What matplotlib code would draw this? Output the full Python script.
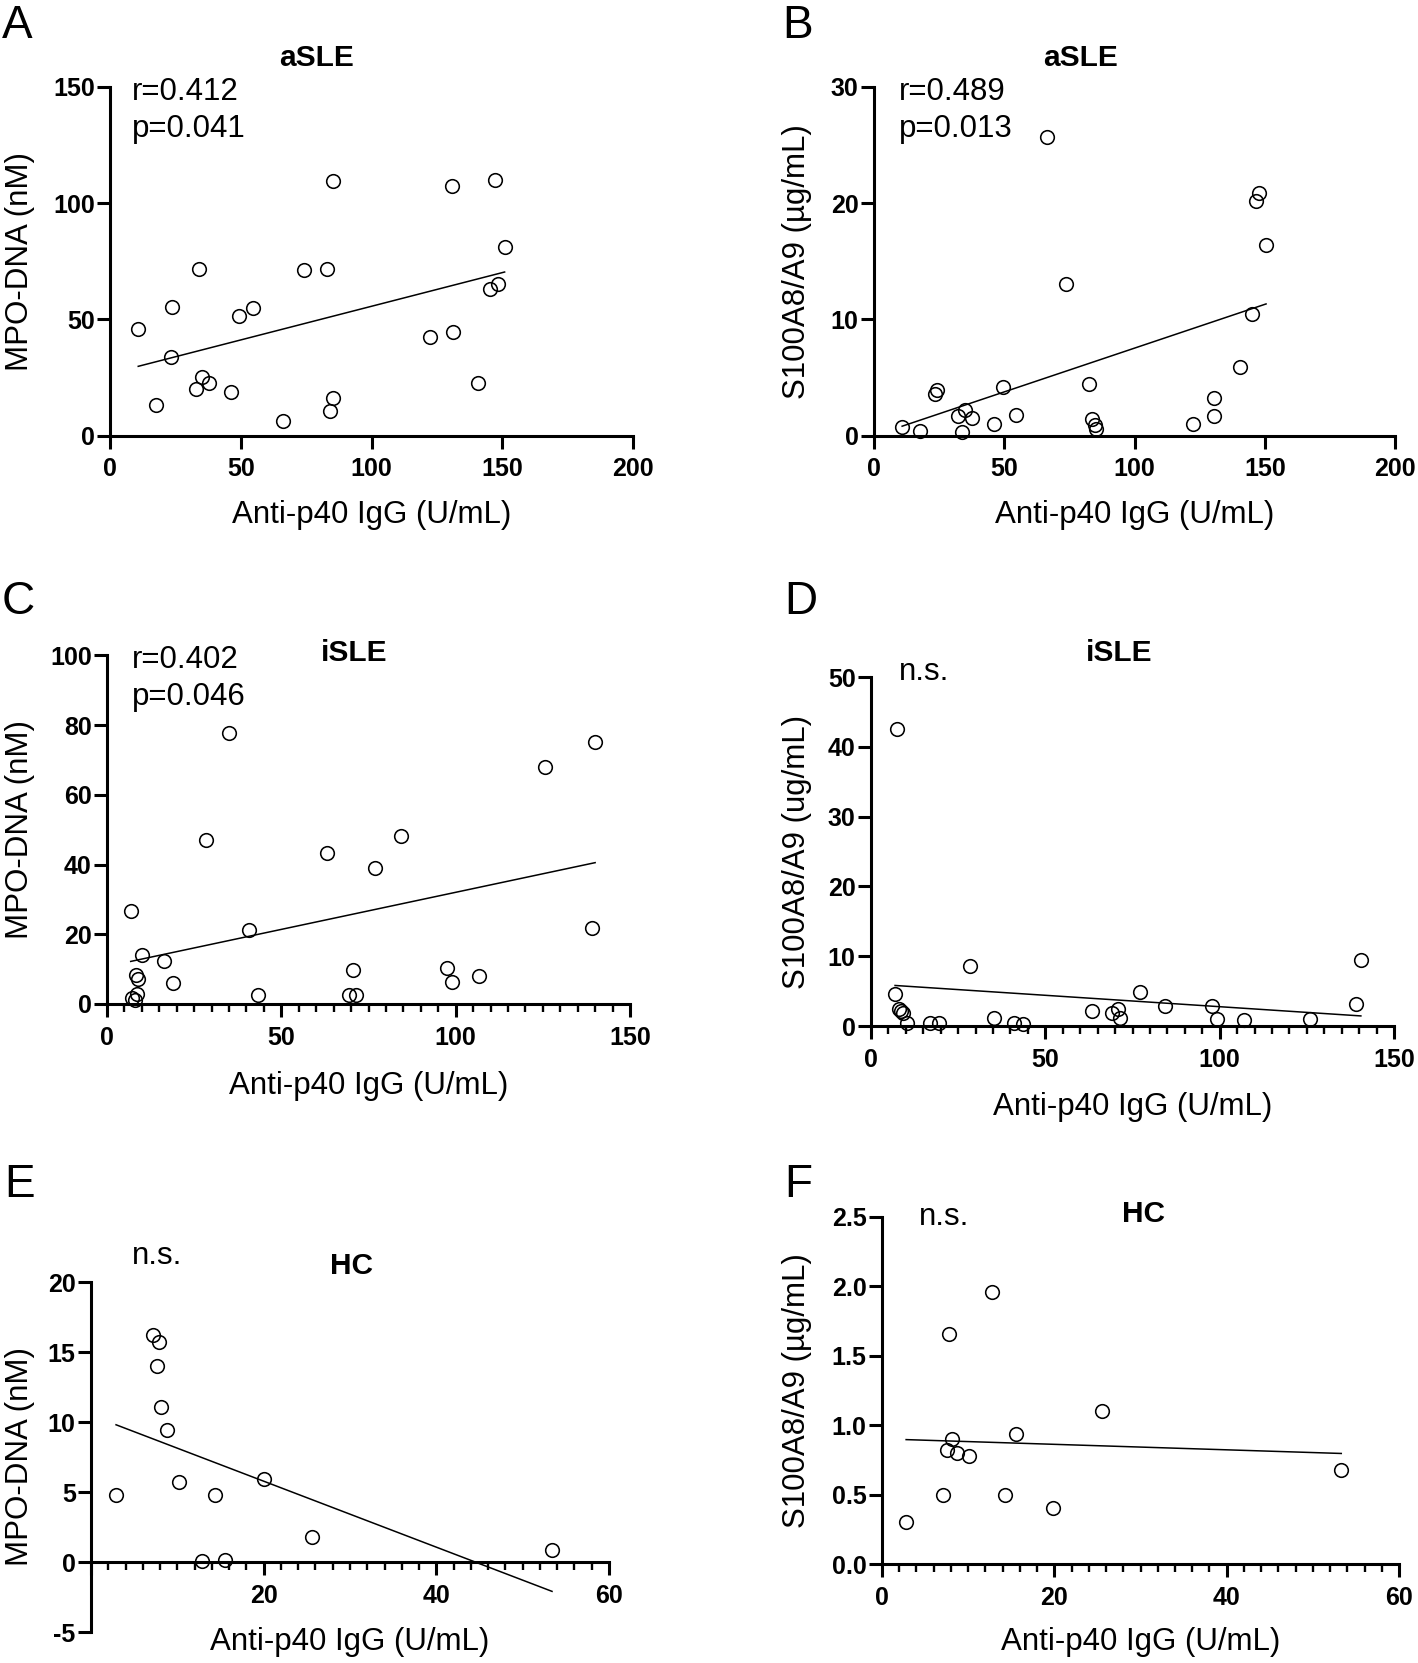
import numpy as np
import matplotlib
matplotlib.use("Agg")
import matplotlib.pyplot as plt
from matplotlib.ticker import MultipleLocator

# ---------------- data ----------------
A_x = [10.8, 17.7, 23.7, 23.2, 34.0, 33.0, 35.1, 37.8, 46.2, 49.5, 54.8, 66.3, 74.1,
       82.8, 85.2, 84.0, 85.2, 122.5, 130.8, 131.1, 140.9, 145.2, 147.3, 148.3, 150.9]
A_y = [45.9, 13.1, 55.3, 34.0, 71.7, 20.1, 25.3, 22.4, 18.6, 51.4, 54.8, 6.1, 71.1,
       71.8, 109.4, 10.7, 16.2, 42.6, 107.2, 44.7, 22.8, 62.9, 109.8, 65.1, 81.1]

B_x = [10.8, 17.5, 23.3, 24.3, 32.1, 33.9, 35.1, 37.7, 46.0, 49.5, 54.7, 66.3, 73.8,
       82.5, 83.7, 84.9, 85.4, 122.4, 130.6, 130.6, 140.5, 145.0, 146.7, 147.9, 150.5]
B_y = [0.69, 0.39, 3.6, 3.9, 1.7, 0.33, 2.2, 1.5, 0.96, 4.2, 1.8, 25.7, 13.0,
       4.4, 1.4, 0.9, 0.54, 1.0, 3.2, 1.7, 5.9, 10.5, 20.2, 20.9, 16.4]

C_x = [6.8, 9.9, 16.4, 8.3, 8.9, 18.9, 8.6, 7.3, 7.9, 28.4, 35.1, 40.7, 43.4,
       63.2, 69.4, 71.3, 70.6, 77.0, 84.2, 97.6, 99.0, 106.7, 125.6, 139.1, 140.0]
C_y = [26.6, 14.1, 12.4, 8.3, 7.1, 6.0, 2.8, 1.6, 1.1, 47.0, 77.7, 21.1, 2.7,
       43.4, 2.7, 2.7, 9.8, 39.1, 48.3, 10.2, 6.2, 7.9, 68.0, 21.8, 75.2]

D_x = [7.6, 6.9, 8.0, 8.7, 9.3, 10.2, 17.0, 19.5, 28.5, 35.2, 40.9, 43.5, 63.4,
       69.2, 70.9, 71.4, 77.2, 84.3, 97.7, 99.3, 107.0, 126.0, 139.2, 140.5]
D_y = [42.6, 4.6, 2.5, 2.2, 1.9, 0.5, 0.5, 0.5, 8.6, 1.2, 0.5, 0.35, 2.2,
       1.8, 2.4, 1.2, 4.9, 2.8, 2.9, 1.0, 0.9, 1.0, 3.1, 9.5]

E_x = [2.9, 7.2, 7.9, 7.6, 8.1, 8.8, 10.2, 12.9, 14.4, 15.5, 20.0, 25.6, 53.4]
E_y = [4.8, 16.2, 15.7, 14.0, 11.1, 9.4, 5.7, 0.07, 4.8, 0.17, 5.9, 1.8, 0.84]

F_x = [2.8, 7.1, 7.5, 7.8, 8.1, 8.7, 10.1, 12.8, 14.3, 15.5, 19.9, 25.5, 53.3]
F_y = [0.30, 0.50, 0.82, 1.66, 0.90, 0.80, 0.78, 1.96, 0.50, 0.94, 0.40, 1.10, 0.68]

XLABEL = "Anti-p40 IgG (U/mL)"
ylabels = ["MPO-DNA (nM)", "S100A8/A9 (\u00b5g/mL)", "MPO-DNA (nM)",
           "S100A8/A9 (ug/mL)", "MPO-DNA (nM)", "S100A8/A9 (\u00b5g/mL)"]
titles = ["aSLE", "aSLE", "iSLE", "iSLE", "HC", "HC"]
letters = ["A", "B", "C", "D", "E", "F"]
stats = [["r=0.412", "p=0.041"], ["r=0.489", "p=0.013"], ["r=0.402", "p=0.046"],
         ["n.s."], ["n.s."], ["n.s."]]

A_xticks = [0, 50, 100, 150, 200]; A_yticks = [0, 50, 100, 150]
B_xticks = [0, 50, 100, 150, 200]; B_yticks = [0, 10, 20, 30]
C_xticks = [0, 50, 100, 150];      C_yticks = [0, 20, 40, 60, 80, 100]
D_xticks = [0, 50, 100, 150];      D_yticks = [0, 10, 20, 30, 40, 50]
E_xticks = [0, 20, 40, 60];        E_yticks = [-5, 0, 5, 10, 15, 20]
F_xticks = [0, 20, 40, 60];        F_yticks = [0.0, 0.5, 1.0, 1.5, 2.0, 2.5]

# ---------------- layout ----------------
W, H = 1418, 1663
fig = plt.figure(figsize=(W / 100, H / 100), dpi=100)
plt.rcParams['font.family'] = ['Liberation Sans', 'DejaVu Sans']

def fx(x):
    return x / W

def fy(y):
    return 1 - y / H

# (left, right, top, bottom) in pixels
boxes = [(110, 633, 87, 435.5), (874, 1395, 87, 435.5),
         (107, 630, 655.5, 1004), (871, 1394, 677, 1026),
         (91, 609, 1282, 1632), (882, 1399, 1217, 1564)]
letter_pos = [(2, 38), (782, 38), (2, 614), (784, 614), (4, 1197), (784, 1197)]
title_pos = [(317, 66), (1081, 66), (354, 661), (1119, 661), (352, 1274), (1143, 1222)]
stat_pos = [(132, 100, 137), (899, 100, 137), (132, 668, 705),
            (899, 680, None), (132, 1264, None), (919, 1225, None)]
xlabel_base = [523, 523, 1094, 1115, 1650, 1650]
ylabel_x = [20, 797, 20, 797, 20, 797]

data = [(A_x, A_y, A_xticks, A_yticks), (B_x, B_y, B_xticks, B_yticks),
        (C_x, C_y, C_xticks, C_yticks), (D_x, D_y, D_xticks, D_yticks),
        (E_x, E_y, E_xticks, E_yticks), (F_x, F_y, F_xticks, F_yticks)]
minor_steps = [None, None, 5, 5, 2, 2]

for i, ((xs, ys, xt, yt), (l, r, t, b)) in enumerate(zip(data, boxes)):
    ax = fig.add_axes([fx(l), fy(b), (r - l) / W, (b - t) / H])
    ax.set_xlim(xt[0], xt[-1])
    ax.set_ylim(yt[0], yt[-1])
    for s in ['top', 'right']:
        ax.spines[s].set_visible(False)
    for s in ['left', 'bottom']:
        ax.spines[s].set_linewidth(2.2)
    if i == 4:
        ax.spines['bottom'].set_position(('data', 0))
    xlabels_t = [str(v) for v in xt]
    if i == 4:
        xlabels_t[0] = ''
    if i == 5:
        ylabels_t = ["%.1f" % v for v in yt]
    else:
        ylabels_t = [str(v) for v in yt]
    ax.set_xticks(xt, labels=xlabels_t, fontweight='bold', fontsize=18)
    ax.set_yticks(yt, labels=ylabels_t, fontweight='bold', fontsize=18)
    ax.tick_params(which='major', direction='out', length=9.5, width=2.2, color='black')
    ax.tick_params(axis='x', which='major', pad=6)
    ax.tick_params(axis='y', which='major', pad=1.5)
    if minor_steps[i]:
        ax.xaxis.set_minor_locator(MultipleLocator(minor_steps[i]))
        ax.tick_params(axis='x', which='minor', direction='out', length=6, width=1.7)

    ax.plot(xs, ys, 'o', mfc='none', mec='black', ms=9.8, mew=1.15,
            clip_on=False, zorder=3)
    coef = np.polyfit(xs, ys, 1)
    xl = np.array([min(xs), max(xs)])
    ax.plot(xl, np.polyval(coef, xl), '-', color='black', lw=1.1, clip_on=False, zorder=2)

    # labels
    fig.text(fx((l + r) / 2), fy(xlabel_base[i]), XLABEL, ha='center', va='baseline',
             fontsize=22.5)
    fig.text(fx(ylabel_x[i]), fy((t + b) / 2), ylabels[i], rotation=90,
             ha='center', va='center', fontsize=22.5)
    fig.text(fx(title_pos[i][0]), fy(title_pos[i][1]), titles[i], ha='center',
             va='baseline', fontsize=21.5, fontweight='bold')
    fig.text(fx(letter_pos[i][0]), fy(letter_pos[i][1]), letters[i], ha='left',
             va='baseline', fontsize=33)
    sx, sy1, sy2 = stat_pos[i]
    fig.text(fx(sx), fy(sy1), stats[i][0], ha='left', va='baseline', fontsize=22.5)
    if sy2 is not None:
        fig.text(fx(sx), fy(sy2), stats[i][1], ha='left', va='baseline', fontsize=22.5)

fig.savefig("out.png", dpi=100, facecolor='white')
